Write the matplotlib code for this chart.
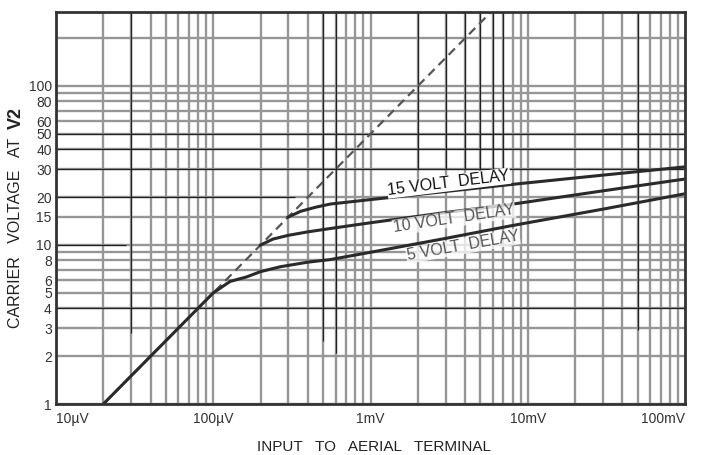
import numpy as np
import matplotlib.pyplot as plt

plt.rcParams['font.family'] = ['Liberation Sans', 'DejaVu Sans']

# input to aerial terminal (volts) vs carrier voltage at V2 (volts)
x_5v = [20e-6, 100e-6, 128e-6, 163e-6, 200e-6, 267e-6, 400e-6, 556e-6, 1e-3, 3e-3, 7.8e-3, 30e-3, 100e-3]
y_5v = [1, 5, 5.9, 6.3, 6.8, 7.3, 7.8, 8.1, 9.0, 11.0, 13.2, 16.8, 21]

x_10v = [200e-6, 240e-6, 300e-6, 400e-6, 556e-6, 1e-3, 3e-3, 7.8e-3, 30e-3, 100e-3]
y_10v = [10, 10.9, 11.5, 12.1, 12.7, 13.8, 16.0, 18.0, 21.9, 26]

x_15v = [300e-6, 360e-6, 450e-6, 556e-6, 1e-3, 3e-3, 7.8e-3, 30e-3, 100e-3]
y_15v = [15, 16.3, 17.3, 18.1, 19.3, 21.7, 24.0, 27.5, 31]

# no-delay line (dashed)
x_nodelay = [20e-6, 6e-3]
y_nodelay = [1, 300]

xtick_vals = [1e-5, 1e-4, 1e-3, 1e-2, 1e-1]
xtick_labels = ['10\u00b5V', '100\u00b5V', '1mV', '10mV', '100mV']
ytick_vals = [1, 2, 3, 4, 5, 6, 8, 10, 15, 20, 30, 40, 50, 60, 80, 100]
ytick_labels = [str(v) for v in ytick_vals]

fig = plt.figure(figsize=(7.01, 4.55), dpi=100)
ax = fig.add_axes([56 / 701, 51 / 455, 629 / 701, 392 / 455])
ax.set_xscale('log')
ax.set_yscale('log')
ax.set_xlim(1e-5, 1e-1)
ax.set_ylim(1, 292)

# graph paper grid
grid_c = '#969696'
xgrid = [m * 10.0 ** e for e in range(-5, -1) for m in range(1, 10)]
ygrid = [m * 10.0 ** e for e in range(0, 3) for m in range(1, 10)] + [15]
for xv in xgrid:
    ax.axvline(xv, color=grid_c, lw=1.7, zorder=1)
for yv in ygrid:
    ax.axhline(yv, color=grid_c, lw=1.7, zorder=1)

# darker re-inked lines on the original sheet
dark = '#222222'
for yv in [4, 30, 40, 50]:
    ax.axhline(yv, color=dark, lw=0.9, zorder=2)
ax.hlines(20, 1e-5, 330e-6, color=dark, lw=0.9, zorder=2)
ax.hlines(10, 1e-5, 28e-6, color=dark, lw=0.9, zorder=2)
ax.vlines([30e-6], 2.8, 292, color=dark, lw=0.9, zorder=2)
ax.vlines([500e-6], 2.5, 292, color=dark, lw=0.9, zorder=2)
ax.vlines([600e-6], 2.1, 292, color=dark, lw=0.9, zorder=2)
ax.vlines([2e-3, 3e-3, 4e-3, 5e-3, 6e-3, 7e-3], 30, 292, color=dark, lw=0.9, zorder=2)
ax.vlines([50e-3], 2.9, 292, color=dark, lw=0.9, zorder=2)

# curves
ax.plot(x_nodelay, y_nodelay, color='#555555', lw=1.6, ls=(0, (4, 2.5)), zorder=3)
curve_c = '#2a2a2a'
ax.plot(x_5v, y_5v, color=curve_c, lw=2.2, zorder=4, solid_capstyle='butt')
ax.plot(x_10v, y_10v, color=curve_c, lw=2.2, zorder=4)
ax.plot(x_15v, y_15v, color=curve_c, lw=2.2, zorder=4)

ax.text(3.15e-3, 24.5, '15 VOLT  DELAY', rotation=7, ha='center', va='center',
        fontsize=11.5, color='#111111', zorder=5,
        bbox=dict(facecolor='white', edgecolor='none', pad=0.5))
ax.text(3.4e-3, 14.6, '10 VOLT  DELAY', rotation=8.5, ha='center', va='center',
        fontsize=11.5, color='#555555', zorder=5,
        bbox=dict(facecolor='white', edgecolor='none', alpha=0.75, pad=0.5))
ax.text(3.87e-3, 9.86, '5 VOLT  DELAY', rotation=10, ha='center', va='center',
        fontsize=11.5, color='#555555', zorder=5,
        bbox=dict(facecolor='white', edgecolor='none', alpha=0.75, pad=0.5))

# ticks
ax.set_xticks(xtick_vals)
ax.set_xticklabels(xtick_labels)
ax.set_yticks(ytick_vals)
ax.set_yticklabels(ytick_labels)
ax.minorticks_off()
ax.tick_params(axis='both', length=0, labelsize=10, labelcolor='#333333')
ax.tick_params(axis='x', pad=6)
ax.tick_params(axis='y', pad=3)
ax.get_xticklabels()[0].set_horizontalalignment('left')
ax.get_xticklabels()[-1].set_horizontalalignment('right')

for side in ['top', 'bottom', 'left', 'right']:
    ax.spines[side].set_color('#333333')
    ax.spines[side].set_linewidth(2)
    ax.spines[side].set_zorder(6)

fig.text(374 / 701, 1 - 447 / 455, 'INPUT   TO   AERIAL   TERMINAL', ha='center', va='center',
         fontsize=11, color='#222222')
fig.text(16 / 701, 1 - 328 / 455, 'CARRIER   VOLTAGE   AT', rotation=90, ha='center', va='bottom',
         fontsize=11.5, color='#222222')
fig.text(16 / 701, 1 - 129 / 455, 'V2', rotation=90, ha='center', va='bottom',
         fontsize=13, fontweight='bold', color='#222222')

fig.savefig('out.png', dpi=100, facecolor='white')
